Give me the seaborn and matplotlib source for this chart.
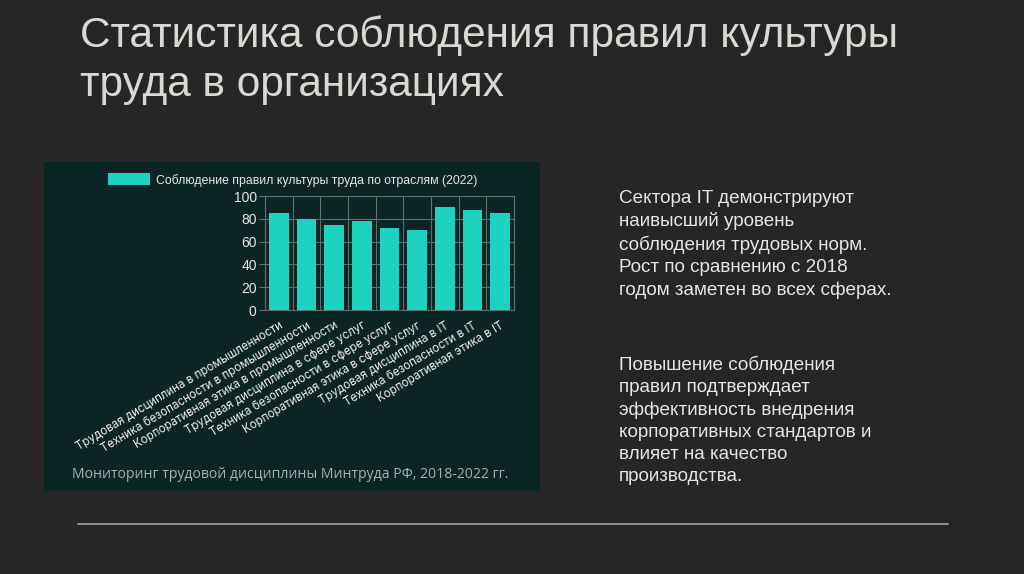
import matplotlib

matplotlib.use("Agg")

import matplotlib.pyplot as plt
import pandas as pd
import seaborn as sns

SLIDE_BG = "#262626"
PANEL_BG = "#0b2424"
BAR_COLOR = "#1dd2be"
GRID_COLOR = "#5c706e"

categories = [
    "Трудовая дисциплина в промышленности",
    "Техника безопасности в промышленности",
    "Корпоративная этика в промышленности",
    "Трудовая дисциплина в сфере услуг",
    "Техника безопасности в сфере услуг",
    "Корпоративная этика в сфере услуг",
    "Трудовая дисциплина в IT",
    "Техника безопасности в IT",
    "Корпоративная этика в IT",
]
compliance_2022 = [85, 80, 75, 78, 72, 70, 90, 88, 85]
y_ticks = [0, 20, 40, 60, 80, 100]

series_label = "Соблюдение правил культуры труда по отраслям (2022)"
source_note = "Мониторинг трудовой дисциплины Минтруда РФ, 2018-2022 гг."
title_lines = ["Статистика соблюдения правил культуры", "труда в организациях"]
paragraph_1 = (
    "Сектора IT демонстрируют\nнаивысший уровень\nсоблюдения трудовых норм.\n"
    "Рост по сравнению с 2018\nгодом заметен во всех сферах."
)
paragraph_2 = (
    "Повышение соблюдения\nправил подтверждает\nэффективность внедрения\n"
    "корпоративных стандартов и\nвлияет на качество\nпроизводства."
)

W, H = 1024, 574


def fx(px):
    return px / W


def fy(py):
    return 1 - py / H


sns.set_theme(style="dark")
plt.rcParams["font.family"] = ["Liberation Sans", "DejaVu Sans"]

fig = plt.figure(figsize=(W / 100, H / 100), dpi=100, facecolor=SLIDE_BG)

# slide title, one baseline per line
for line, base in zip(title_lines, [47, 96]):
    fig.text(fx(80), fy(base), line, fontsize=30.5, color="#d9d9d4",
             ha="left", va="baseline")

# dark chart panel (empty axes used as a background card)
panel = fig.add_axes([fx(44), fy(491), fx(540) - fx(44), fy(162) - fy(491)], zorder=-1)
panel.set_facecolor(PANEL_BG)
panel.set_xticks([])
panel.set_yticks([])
for spine in panel.spines.values():
    spine.set_visible(False)

ax = fig.add_axes([fx(265), fy(310), fx(514) - fx(265), fy(196) - fy(310)])
ax.set_facecolor(PANEL_BG)

df = pd.DataFrame({"category": categories, "value": compliance_2022})
sns.barplot(data=df, x="category", y="value", color=BAR_COLOR, saturation=1,
            width=0.72, label=series_label, linewidth=0, ax=ax, zorder=3)

ax.set_xlim(-0.5, len(categories) - 0.5)
ax.set_ylim(0, 100)
ax.set_yticks(y_ticks)
ax.set_xticks(range(len(categories)))
ax.set_xticks([i - 0.5 for i in range(len(categories) + 1)], minor=True)
ax.set_xticklabels(categories, rotation=31, ha="right", rotation_mode="anchor",
                   fontsize=8.3, color="#eeeeee", family=["Inter", "DejaVu Sans"])
ax.tick_params(axis="x", which="major", length=0, pad=7)
ax.tick_params(axis="x", which="minor", length=4, color=GRID_COLOR, width=0.8)
ax.tick_params(axis="y", length=4, color=GRID_COLOR, width=0.8, labelsize=10,
               labelcolor="#e6e6e6", pad=2, left=True)
ax.grid(True, axis="y", color=GRID_COLOR, linewidth=0.8, zorder=0)
ax.grid(True, axis="x", which="minor", color=GRID_COLOR, linewidth=0.8, zorder=0)
ax.grid(False, axis="x", which="major")
ax.set_axisbelow(True)
for spine in ax.spines.values():
    spine.set_visible(True)
    spine.set_color(GRID_COLOR)
    spine.set_linewidth(0.8)
ax.set_xlabel("")
ax.set_ylabel("")

ax.legend(loc="center", bbox_to_anchor=(fx(293), fy(180)),
          bbox_transform=fig.transFigure, frameon=False, fontsize=8.8,
          handlelength=3.4, handleheight=1.1, handletextpad=0.55,
          labelcolor="#e6e6e6")

fig.text(fx(72), fy(475), source_note, fontsize=10.1, color="#9cb6b1",
         ha="left", va="center", family=["Open Sans", "DejaVu Sans"])

# explanatory text on the right
fig.text(fx(619), fy(190), paragraph_1, fontsize=13.6, color="#e6e6e6",
         ha="left", va="top", linespacing=1.38)
fig.text(fx(619), fy(356), paragraph_2, fontsize=13.6, color="#e6e6e6",
         ha="left", va="top", linespacing=1.38)

# bottom rule
fig.add_artist(plt.Line2D([fx(78), fx(948)], [fy(524), fy(524)],
                          transform=fig.transFigure, color="#9a9a9a", linewidth=1.3))

fig.savefig("out.png", dpi=100, facecolor=SLIDE_BG)
